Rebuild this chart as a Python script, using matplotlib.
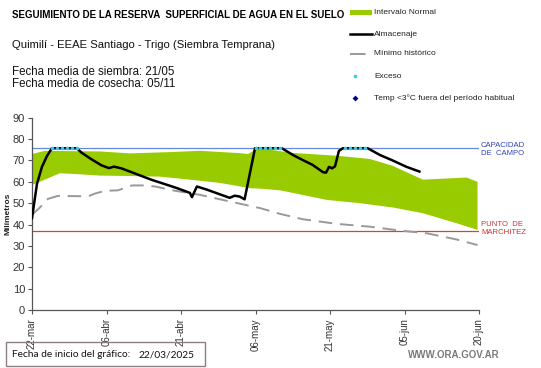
import matplotlib
matplotlib.use('Agg')
import matplotlib.pyplot as plt
from matplotlib.lines import Line2D
from matplotlib.patches import Rectangle

plt.rcParams['font.family'] = ['Liberation Sans', 'DejaVu Sans']

# days counted from 22/03/2025
tick_days = [0, 15, 30, 45, 60, 75, 90]
tick_labels = ['22-mar', '06-abr', '21-abr', '06-may', '21-may', '05-jun', '20-jun']

capacidad = 75.7
marchitez = 37.2

normal_up_days = [0, 2.6, 13.7, 19.7, 27.8, 33.8, 41.9, 43.5, 45, 48, 52.5, 61.4, 68, 72.6, 78.7, 87.5, 89.7]
normal_up = [73, 74.5, 74.2, 73.3, 73.9, 74.5, 73.4, 73, 75, 75, 73.5, 72.2, 70.7, 67.5, 61, 62, 60]
normal_lo_days = [0, 2.6, 5.6, 9.7, 13.7, 19.7, 25.8, 31.8, 37.8, 43.9, 45.9, 50, 52.5, 59.4, 66, 72.6, 78.7, 85.5, 89.7]
normal_lo = [58.5, 61, 64, 63.5, 62.9, 62.7, 62.4, 61, 59.5, 57, 56.8, 56, 54.8, 51.5, 50, 48, 45.3, 40.6, 37.5]

minimo_days = [0, 1.6, 3.2, 5.2, 11.3, 12.7, 14.7, 17.3, 20.1, 22.7, 24.8, 28.8, 33.8, 39.8, 45.9, 49.9,
               54.5, 61.4, 68, 74, 79.5, 85.5, 89.7]
minimo = [44.5, 48, 52, 53.4, 53.2, 54.5, 55.8, 56, 58.3, 58.3, 57.8, 55.8, 53.9, 50.8, 47.7, 45,
          42.5, 40.3, 39, 37.2, 35.9, 33, 30.4]

alm_days = [0, 1, 2, 3, 4, 9, 10, 12, 14, 15.5, 16.5, 18, 24, 29, 31.8, 32.2, 33.2, 35, 39.8, 40.8, 41.8,
            42.8, 44.9, 50.3, 52.5, 54.5, 56.5, 58.6, 59.2, 59.8, 60.4, 61, 61.8, 62.6, 67.6, 70, 72.6,
            75.4, 78]
almacenaje = [43, 59, 67, 72, 75.7, 75.7, 73.6, 70.5, 67.7, 66.4, 67.1, 66.3, 61, 57.2, 54.8, 52.8, 57.8,
              56.5, 52.5, 53.5, 53.1, 51.8, 75.7, 75.7, 72.6, 70.2, 67.9, 64.5, 64.3, 67, 66.3, 67.2,
              74.5, 75.7, 75.7, 72.6, 70, 67, 64.8]

exceso_days = [4, 5, 6, 7, 8, 9, 45, 46, 47, 48, 49, 50, 63, 64, 65, 66, 67]
exceso = [capacidad] * len(exceso_days)

green = '#99cc00'

fig = plt.figure(figsize=(5.41, 3.68), dpi=100)
ax = fig.add_axes([32 / 541, 1 - 310 / 368, 447 / 541, 192.3 / 368])

# normal interval as a closed polygon (upper edge, then lower edge back)
poly_x = normal_up_days + normal_lo_days[::-1]
poly_y = normal_up + normal_lo[::-1]
ax.fill(poly_x, poly_y, color=green, lw=0, zorder=1)

ax.axhline(capacidad, color='#6688dd', lw=0.9, zorder=2)
ax.axhline(marchitez, color='#cc4444', lw=0.9, zorder=2)

ax.plot(minimo_days, minimo, color='#999999', lw=1.4, dashes=(7, 4), zorder=3)
ax.plot(alm_days, almacenaje, color='black', lw=1.8, zorder=4)
ax.plot(exceso_days, exceso, ls='none', marker='o', ms=2.6, color='#33ccee', mec='none', zorder=5)

ax.set_xlim(0, 90)
ax.set_ylim(0, 90)
ax.set_yticks(range(0, 91, 10))
ax.set_xticks(tick_days)
ax.set_xticklabels(tick_labels, rotation=90)
for s in ['top', 'right']:
    ax.spines[s].set_visible(False)
for s in ['left', 'bottom']:
    ax.spines[s].set_color('#555555')
    ax.spines[s].set_linewidth(0.9)
ax.tick_params(axis='both', direction='out', length=3, width=0.8, color='#555555',
               labelcolor='#333333', labelsize=8, pad=2)
ax.tick_params(axis='x', labelsize=7, pad=3)
ax.set_ylabel('Milímetros', fontsize=6, fontweight='bold', color='#222222', labelpad=1)
ax.patch.set_visible(False)

# side labels
fig.text(481 / 541, 1 - 149.5 / 368, 'CAPACIDAD\nDE  CAMPO', color='#3344bb', fontsize=5.6,
         va='center', ha='left', linespacing=1.2)
fig.text(481 / 541, 1 - 228.5 / 368, 'PUNTO  DE\nMARCHITEZ', color='#cc3333', fontsize=5.6,
         va='center', ha='left', linespacing=1.2)

# header texts
fig.text(12 / 541, 1 - 15 / 368, 'SEGUIMIENTO DE LA RESERVA  SUPERFICIAL DE AGUA EN EL SUELO',
         fontsize=7, fontweight='bold', va='center', ha='left')
fig.text(12 / 541, 1 - 45 / 368, 'Quimilí - EEAE Santiago - Trigo (Siembra Temprana)',
         fontsize=8.1, va='center', ha='left', color='#111111')
fig.text(12 / 541, 1 - 72 / 368, 'Fecha media de siembra: 21/05', fontsize=8.3, va='center',
         ha='left', color='#111111')
fig.text(12 / 541, 1 - 84 / 368, 'Fecha media de cosecha: 05/11', fontsize=8.3, va='center',
         ha='left', color='#111111')

# legend, drawn in pixel space
lg = fig.add_axes([0, 0, 1, 1])
lg.axis('off')
lg.add_patch(Rectangle((350, 9.5), 22, 5, color=green, lw=0))
lg.add_line(Line2D([350, 372], [34, 34], color='black', lw=1.8))
lg.add_line(Line2D([350, 372], [53.7, 53.7], color='#999999', lw=1.4, dashes=(8, 4)))
lg.add_line(Line2D([355], [76], marker='o', ms=2.6, color='#33ccee', mec='none', ls='none'))
lg.add_line(Line2D([355], [98], marker='D', ms=3, color='#000099', mec='none', ls='none'))
legend_texts = ['Intervalo Normal', 'Almacenaje', 'Mínimo histórico', 'Exceso',
                'Temp <3°C fuera del período habitual']
for yy, t in zip([12, 34, 53.7, 76, 98], legend_texts):
    lg.text(374, yy, t, fontsize=6, va='center', ha='left', color='#222222')

# footer
lg.add_patch(Rectangle((6, 342), 199, 24, fill=False, ec='#8c7f7f', lw=1))
lg.text(12, 354.5, 'Fecha de inicio del gráfico:', fontsize=7.3, family=['Lato', 'DejaVu Sans'],
        va='center', ha='left', color='#111111')
lg.text(139, 354.5, '22/03/2025', fontsize=7.3, family=['Lato', 'DejaVu Sans'],
        va='center', ha='left', color='#111111')
lg.text(500, 355, 'WWW.ORA.GOV.AR', fontsize=7, fontweight='bold', color='#7a7a7a',
        va='center', ha='right')
lg.set_xlim(0, 541)
lg.set_ylim(368, 0)

fig.savefig('out.png', dpi=100)
